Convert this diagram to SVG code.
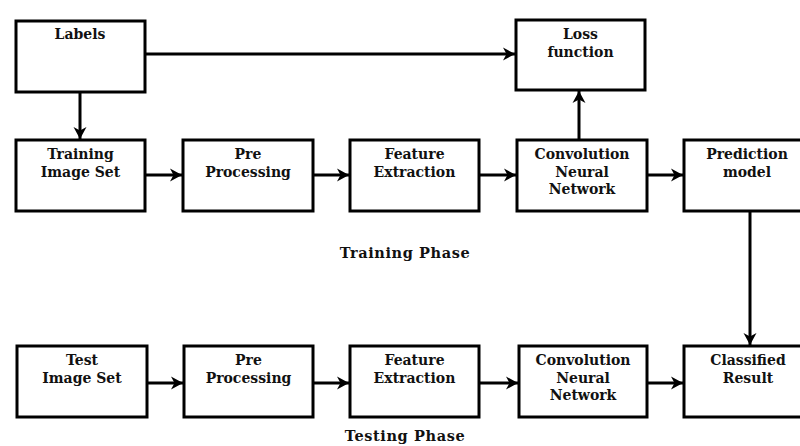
<svg xmlns="http://www.w3.org/2000/svg" width="800" height="446" viewBox="0 0 800 446">
<style>
.box{fill:#fff;stroke:#000;stroke-width:3}
.t{font-family:"DejaVu Serif","Liberation Serif",serif;font-weight:bold;font-size:14px;text-anchor:middle;fill:#111}
.ph{font-family:"DejaVu Serif","Liberation Serif",serif;font-weight:bold;font-size:14.5px;letter-spacing:0.6px;text-anchor:middle;fill:#111}
.c{fill:none;stroke:#000;stroke-width:3}
</style>
<defs>
<marker id="ah" markerUnits="userSpaceOnUse" markerWidth="15" markerHeight="15" refX="13" refY="7.5" orient="auto">
<path d="M1,1 L13,7.5 L1,14 L4.5,7.5 Z" fill="#000"/>
</marker>
</defs>
<rect width="800" height="446" fill="#fff"/>
<g id="connectors">
<line class="c" x1="145" y1="54" x2="515" y2="54" marker-end="url(#ah)"/>
<line class="c" x1="80" y1="92" x2="80" y2="139" marker-end="url(#ah)"/>
<line class="c" x1="579" y1="140" x2="579" y2="91" marker-end="url(#ah)"/>
<line class="c" x1="145" y1="175" x2="182" y2="175" marker-end="url(#ah)"/>
<line class="c" x1="313" y1="175" x2="349" y2="175" marker-end="url(#ah)"/>
<line class="c" x1="479" y1="175" x2="516" y2="175" marker-end="url(#ah)"/>
<line class="c" x1="647" y1="175" x2="683" y2="175" marker-end="url(#ah)"/>
<line class="c" x1="750" y1="211" x2="750" y2="345" marker-end="url(#ah)"/>
<line class="c" x1="147" y1="383" x2="183" y2="383" marker-end="url(#ah)"/>
<line class="c" x1="313" y1="383" x2="349" y2="383" marker-end="url(#ah)"/>
<line class="c" x1="479" y1="383" x2="518" y2="383" marker-end="url(#ah)"/>
<line class="c" x1="647" y1="383" x2="683" y2="383" marker-end="url(#ah)"/>
</g>
<g id="labels"><rect class="box" x="16" y="21" width="129" height="71"/><text class="t" x="80" y="39">Labels</text></g>
<g id="loss"><rect class="box" x="516" y="20" width="129" height="70"/><text class="t" x="580.5" y="39">Loss</text><text class="t" x="580.5" y="57">function</text></g>
<g id="train-img"><rect class="box" x="16" y="140" width="129" height="71"/><text class="t" x="80.5" y="159">Training</text><text class="t" x="80.5" y="177">Image Set</text></g>
<g id="train-pre"><rect class="box" x="183" y="140" width="130" height="71"/><text class="t" x="248" y="159">Pre</text><text class="t" x="248" y="177">Processing</text></g>
<g id="train-feat"><rect class="box" x="350" y="140" width="129" height="71"/><text class="t" x="414.5" y="159">Feature</text><text class="t" x="414.5" y="177">Extraction</text></g>
<g id="train-cnn"><rect class="box" x="517" y="140" width="130" height="71"/><text class="t" x="582" y="159">Convolution</text><text class="t" x="582" y="177">Neural</text><text class="t" x="582" y="194">Network</text></g>
<g id="prediction"><rect class="box" x="684" y="140" width="130" height="71"/><text class="t" x="747" y="159">Prediction</text><text class="t" x="747" y="177">model</text></g>
<g id="test-img"><rect class="box" x="17" y="346" width="130" height="71"/><text class="t" x="82" y="365">Test</text><text class="t" x="82" y="383">Image Set</text></g>
<g id="test-pre"><rect class="box" x="184" y="346" width="129" height="71"/><text class="t" x="248.5" y="365">Pre</text><text class="t" x="248.5" y="383">Processing</text></g>
<g id="test-feat"><rect class="box" x="350" y="346" width="129" height="71"/><text class="t" x="414.5" y="365">Feature</text><text class="t" x="414.5" y="383">Extraction</text></g>
<g id="test-cnn"><rect class="box" x="519" y="346" width="128" height="71"/><text class="t" x="583" y="365">Convolution</text><text class="t" x="583" y="383">Neural</text><text class="t" x="583" y="400">Network</text></g>
<g id="classified"><rect class="box" x="684" y="346" width="130" height="71"/><text class="t" x="748" y="365">Classified</text><text class="t" x="748" y="383">Result</text></g>
<g id="phase-labels"><text class="ph" x="405" y="258">Training Phase</text><text class="ph" x="405" y="441">Testing Phase</text></g>
</svg>
